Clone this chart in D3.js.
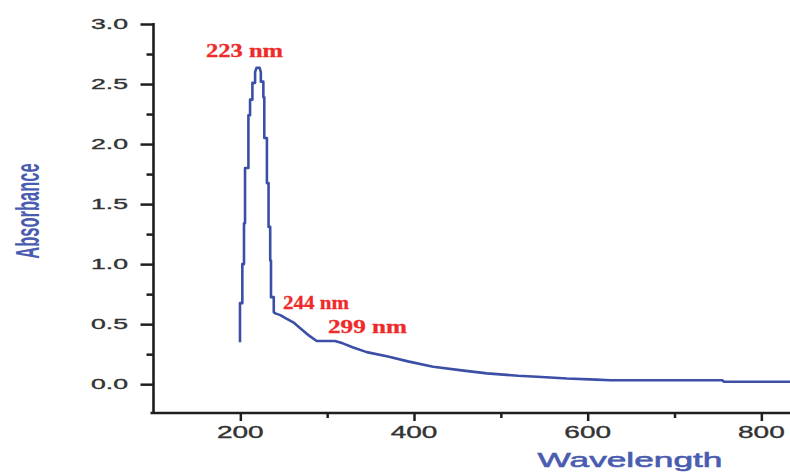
<!DOCTYPE html>
<html>
<head>
<meta charset="utf-8">
<script src="https://cdn.jsdelivr.net/npm/d3@7"></script>
<style>
  html, body { margin: 0; padding: 0; background: #fff; }
  svg { display: block; }
</style>
</head>
<body>
<svg id="chart" width="790" height="472"></svg>
<script>
// UV-Vis absorption spectrum: wavelength (nm) and absorbance
const wavelength = [
  199.6, 199.6, 202.3, 202.3, 204.2, 204.2, 205.4, 205.4, 209.3, 209.3,
  211.2, 211.2, 213.9, 213.9, 217.0, 217.0, 218.6, 222.2, 223.6, 223.6,
  226.5, 226.5, 227.6, 227.6, 230.6, 230.6, 232.5, 232.5, 234.4, 234.4,
  235.3, 235.3, 238.5, 238.5, 240.3, 246, 252, 261, 270, 280,
  288, 309, 318, 330, 345.5, 370, 393, 422, 455, 484,
  520, 547, 576, 610, 626, 700, 755, 757, 833
];
const absorbance = [
  0.35, 0.675, 0.675, 1.00, 1.00, 1.34, 1.34, 1.80, 1.80, 2.24,
  2.24, 2.37, 2.37, 2.51, 2.51, 2.60, 2.635, 2.635, 2.60, 2.52,
  2.52, 2.39, 2.39, 2.05, 2.05, 1.675, 1.675, 1.31, 1.31, 1.03,
  1.03, 0.725, 0.725, 0.60, 0.59, 0.575, 0.55, 0.515, 0.46, 0.40,
  0.36, 0.36, 0.34, 0.305, 0.267, 0.23, 0.19, 0.145, 0.115, 0.09,
  0.07, 0.06, 0.047, 0.038, 0.033, 0.033, 0.033, 0.02, 0.02
];

// Peak annotations
const peakLabels = ["223 nm", "244 nm", "299 nm"];

// Axis ticks
const xMajorTicks = [200, 400, 600, 800];
const xMinorTicks = [300, 500, 700];
const yMajorTicks = [0.0, 0.5, 1.0, 1.5, 2.0, 2.5, 3.0];
const yMinorTicks = [0.25, 0.75, 1.25, 1.75, 2.25, 2.75];

const svg = d3.select("#chart");
const sans = "'Liberation Sans', Arial, sans-serif";
const serif = "'Liberation Serif', 'Times New Roman', serif";

const x = d3.scaleLinear().domain([100, 833]).range([153.5, 790]);
const y = d3.scaleLinear().domain([-0.24, 3.0]).range([413, 24]);

const axisColor = "#1e1e1e";
const tickLabelColor = "#333333";
const titleColor = "#4a5cb0";
const lineColor = "#3c4fa6";
const labelRed = "#ee2a2a";

// Y axis: major + minor ticks
const yAxisMajor = d3.axisLeft(y).tickValues(yMajorTicks).tickSize(13).tickFormat("");
const yAxisMinor = d3.axisLeft(y).tickValues(yMinorTicks).tickSize(7).tickFormat("");
[yAxisMajor, yAxisMinor].forEach(ax => {
  const g = svg.append("g").attr("transform", `translate(${x(100)},0)`).call(ax);
  g.select(".domain").remove();
  g.selectAll(".tick line").attr("stroke", axisColor).attr("stroke-width", 2.5);
});

// X axis: major + minor ticks
const xAxisMajor = d3.axisBottom(x).tickValues(xMajorTicks).tickSize(8).tickFormat("");
const xAxisMinor = d3.axisBottom(x).tickValues(xMinorTicks).tickSize(5).tickFormat("");
[xAxisMajor, xAxisMinor].forEach(ax => {
  const g = svg.append("g").attr("transform", `translate(0,${y(-0.24)})`).call(ax);
  g.select(".domain").remove();
  g.selectAll(".tick line").attr("stroke", axisColor).attr("stroke-width", 2.5);
});

// Axis lines
svg.append("line")
  .attr("x1", x(100)).attr("x2", x(100))
  .attr("y1", y(3.0) - 1).attr("y2", y(-0.24) + 1)
  .attr("stroke", axisColor).attr("stroke-width", 2.6);
svg.append("line")
  .attr("x1", x(100) - 3).attr("x2", 790)
  .attr("y1", y(-0.24)).attr("y2", y(-0.24))
  .attr("stroke", axisColor).attr("stroke-width", 2.6);

// Y tick labels (wide face)
svg.append("g").selectAll("text")
  .data(yMajorTicks)
  .join("text")
  .attr("transform", d => `translate(128,${y(d) + 5}) scale(1.9,1)`)
  .attr("text-anchor", "end")
  .style("font-family", sans)
  .attr("font-size", 14)
  .attr("fill", tickLabelColor)
  .attr("stroke", tickLabelColor)
  .attr("stroke-width", 0.35)
  .text(d => d.toFixed(1));

// X tick labels (wide face)
svg.append("g").selectAll("text")
  .data(xMajorTicks)
  .join("text")
  .attr("transform", d => `translate(${x(d)},438) scale(1.75,1)`)
  .attr("text-anchor", "middle")
  .style("font-family", sans)
  .attr("font-size", 16)
  .attr("fill", tickLabelColor)
  .attr("stroke", tickLabelColor)
  .attr("stroke-width", 0.35)
  .text(d => d);

// Axis titles
svg.append("text")
  .attr("transform", "translate(630,467) scale(1.68,1)")
  .attr("text-anchor", "middle")
  .style("font-family", sans)
  .attr("font-size", 21)
  .attr("fill", titleColor)
  .attr("stroke", titleColor)
  .attr("stroke-width", 0.6)
  .text("Wavelength");

svg.append("text")
  .attr("transform", "translate(39,211) rotate(-90) scale(0.75,1.5)")
  .attr("text-anchor", "middle")
  .style("font-family", sans)
  .attr("font-weight", "bold")
  .attr("font-size", 22)
  .attr("fill", titleColor)
  .text("Absorbance");

// Spectrum line
const pts = wavelength.map((w, i) => [w, absorbance[i]]);
const line = d3.line().x(d => x(d[0])).y(d => y(d[1]));
svg.append("path")
  .datum(pts)
  .attr("d", line)
  .attr("fill", "none")
  .attr("stroke", lineColor)
  .attr("stroke-width", 2.6)
  .attr("stroke-linejoin", "round");

// Peak annotations
const labelPos = [
  { x: 206, y: 57, len: 77, size: 19 },
  { x: 283, y: 309, len: 66, size: 18 },
  { x: 328, y: 333, len: 79, size: 19 }
];
svg.append("g").selectAll("text")
  .data(peakLabels)
  .join("text")
  .attr("x", (d, i) => labelPos[i].x)
  .attr("y", (d, i) => labelPos[i].y)
  .attr("textLength", (d, i) => labelPos[i].len)
  .attr("lengthAdjust", "spacingAndGlyphs")
  .style("font-family", serif)
  .attr("font-weight", "bold")
  .attr("font-size", (d, i) => labelPos[i].size)
  .attr("fill", labelRed)
  .attr("stroke", labelRed)
  .attr("stroke-width", 0.3)
  .text(d => d);
</script>
</body>
</html>
